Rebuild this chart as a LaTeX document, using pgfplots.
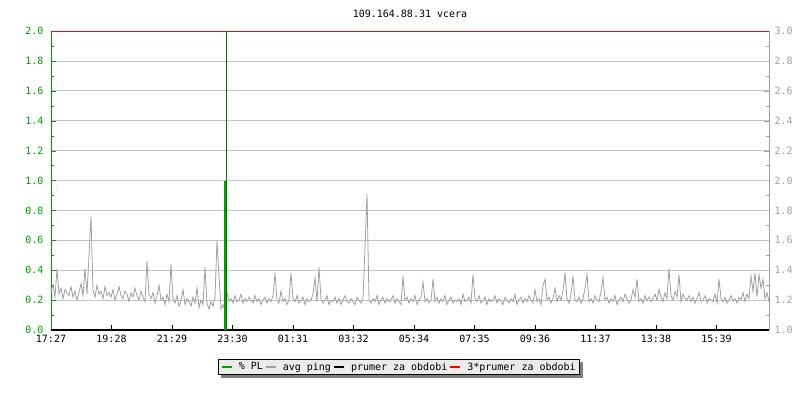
\documentclass[border=0pt]{standalone}
\usepackage{fontspec}
\setmainfont{DejaVu Sans Mono}
\usepackage{pgfplots}
\pgfplotsset{compat=1.18}
\usepackage{pgfplotstable}
\usetikzlibrary{backgrounds}

\definecolor{plgreen}{RGB}{0,160,0}
\definecolor{pinggray}{RGB}{160,160,160}
\definecolor{gridgray}{RGB}{195,195,195}
\definecolor{leggray}{RGB}{235,235,235}
\definecolor{shadowgray}{RGB}{128,128,128}

% avg ping, one value every 2 px of the time axis
\pgfplotstableread{
y
0.26
0.30
0.22
0.41
0.24
0.28
0.21
0.27
0.25
0.23
0.29
0.22
0.26
0.20
0.25
0.31
0.23
0.41
0.24
0.50
0.76
0.27
0.22
0.30
0.24
0.26
0.21
0.29
0.23
0.25
0.22
0.27
0.20
0.24
0.29
0.23
0.21
0.26
0.24
0.19
0.25
0.22
0.28
0.23
0.20
0.26
0.22
0.19
0.46
0.24
0.21
0.25
0.18
0.23
0.30
0.20
0.22
0.17
0.24
0.19
0.44
0.21
0.18
0.23
0.16
0.20
0.27
0.17
0.21
0.19
0.16
0.22
0.18
0.28
0.15
0.20
0.17
0.42
0.18
0.14
0.19
0.16
0.22
0.60
0.36
0.14
0.17
0.13
0.25
0.19
0.21
0.18
0.23
0.19
0.20
0.24
0.18
0.21
0.19
0.22
0.20
0.18
0.23
0.19
0.21
0.17
0.20
0.22
0.18
0.21
0.19
0.23
0.38
0.20
0.18
0.26
0.19
0.21
0.17
0.20
0.38
0.21
0.19
0.23
0.18
0.20
0.22
0.17
0.21
0.19
0.20
0.24
0.35
0.19
0.42
0.21
0.18
0.20
0.23
0.17
0.20
0.19
0.22
0.18
0.21
0.17
0.20
0.23
0.19
0.18
0.21
0.19
0.17
0.22
0.20
0.18
0.21
0.55
0.91
0.20
0.18
0.21
0.19
0.23
0.17
0.20
0.22
0.18
0.21
0.19
0.20
0.23
0.18
0.21
0.19
0.17
0.36
0.20
0.22
0.18
0.21
0.19
0.23
0.17
0.20
0.22
0.32
0.19
0.21
0.18
0.20
0.34
0.19
0.22
0.18
0.21
0.19
0.23
0.17
0.20
0.22
0.18
0.20
0.19
0.21
0.17
0.24
0.19
0.20
0.22
0.18
0.37
0.21
0.19
0.23
0.18
0.20
0.22
0.17
0.21
0.19
0.20
0.23
0.18
0.21
0.19
0.17
0.22
0.20
0.18
0.21
0.19
0.24
0.17
0.20
0.22
0.18
0.21
0.19
0.23
0.20
0.18
0.27
0.19
0.21
0.17
0.30
0.34
0.20
0.22
0.18
0.21
0.28
0.19
0.23
0.20
0.26
0.38
0.21
0.18
0.24
0.36
0.20
0.19
0.22
0.18
0.21
0.28
0.37
0.19
0.21
0.18
0.23
0.20
0.19
0.26
0.35
0.20
0.22
0.18
0.21
0.19
0.23
0.17
0.20
0.22
0.19
0.24
0.21
0.18
0.20
0.27
0.22
0.34
0.19
0.21
0.18
0.23
0.20
0.22
0.19
0.21
0.24
0.20
0.27
0.22
0.19
0.25
0.21
0.41
0.23
0.20
0.26
0.22
0.37
0.19
0.24
0.21
0.20
0.23
0.19
0.22
0.18
0.21
0.25
0.19
0.20
0.23
0.18
0.21
0.20
0.19
0.24
0.18
0.34
0.21
0.19
0.22
0.18
0.20
0.23
0.19
0.21
0.18
0.22
0.20
0.25
0.19
0.24
0.21
0.36
0.26
0.38
0.22
0.37
0.28
0.34
0.21
0.25
0.19
}\ping

\pgfplotsset{
  rrd/.style={
    at={(51pt,70pt)}, anchor=south west,
    scale only axis, width=718pt, height=299pt,
    xmin=0, xmax=718,
    tick align=inside,
    major tick length=5pt, minor tick length=3pt,
    minor y tick num=1,
    ticklabel style={font=\fontsize{10}{12}\selectfont},
    /pgf/number format/.cd, fixed, fixed zerofill, precision=1, assume math mode=true,
  }
}

\begin{document}
\begin{tikzpicture}
\path[use as bounding box] (0pt,0pt) rectangle (800pt,400pt);
\node[font=\fontsize{10}{12}\selectfont] at (410pt,386pt) {109.164.88.31 vcera};

% right axis (1.0 - 3.0)
\begin{axis}[rrd,
  ymin=1, ymax=3,
  axis x line=none, axis y line*=right,
  y axis line style={pinggray},
  ytick={1.0,1.2,1.4,1.6,1.8,2.0,2.2,2.4,2.6,2.8,3.0},
  ytick style={pinggray},
  yticklabel style={pinggray, xshift=2pt},
]
\addplot[draw=none, forget plot] coordinates {(0,1)};
\end{axis}

% left axis (0.0 - 2.0) with the data
\begin{axis}[rrd,
  ymin=0, ymax=2,
  clip=false,
  axis x line*=bottom, axis y line*=left,
  x axis line style={black, line width=1.2pt},
  y axis line style={plgreen},
  ytick={0.0,0.2,0.4,0.6,0.8,1.0,1.2,1.4,1.6,1.8,2.0},
  ytick style={plgreen},
  yticklabel style={plgreen, xshift=-4pt},
  xticklabel style={yshift=-2pt},
  ymajorgrids, grid style={gridgray, line width=0.8pt},
  xtick={0,60.5,121,181.5,242,302.5,363,423.5,484,544.5,605,665.5},
  xticklabels={17:27,19:28,21:29,23:30,01:31,03:32,05:34,07:35,09:36,11:37,13:38,15:39},
  xtick style={black, line width=0.8pt},
  legend columns=4,
  legend image code/.code={\draw[#1] (0pt,0pt) -- (10pt,0pt);},
  legend style={name=leg, at={(axis description cs:0.485,-0.097)}, anchor=north,
    fill=leggray, draw=black, line width=0.8pt,
    font=\fontsize{10}{12}\selectfont,
    inner xsep=2pt, inner ysep=1pt,
    /tikz/every even column/.append style={column sep=0pt},
    /tikz/every odd column/.append style={column sep=4pt}},
]
\addplot[pinggray, line width=0.8pt, forget plot] table[x expr=\coordindex*2, y=y] {\ping};
\addplot[black, line width=2pt, forget plot] coordinates {(0,0) (718,0)};
\addplot[red, line width=1pt, forget plot] coordinates {(0,2) (718,2)};
\addplot[plgreen!75!black, line width=0.8pt, forget plot] coordinates {(175,0) (175,2)};
\addplot[plgreen, line width=2.5pt, forget plot] coordinates {(174,0) (174,1)};

\addlegendimage{plgreen, line width=2pt}
\addlegendentry{\% PL}
\addlegendimage{pinggray, line width=2pt}
\addlegendentry{avg ping}
\addlegendimage{black, line width=2pt}
\addlegendentry{prumer za obdobi}
\addlegendimage{red, line width=2pt}
\addlegendentry{3*prumer za obdobi}
\end{axis}
\begin{scope}[on background layer]
\fill[shadowgray] ([shift={(3pt,-3pt)}]leg.south west) rectangle ([shift={(3pt,-3pt)}]leg.north east);
\end{scope}
\end{tikzpicture}
\end{document}
